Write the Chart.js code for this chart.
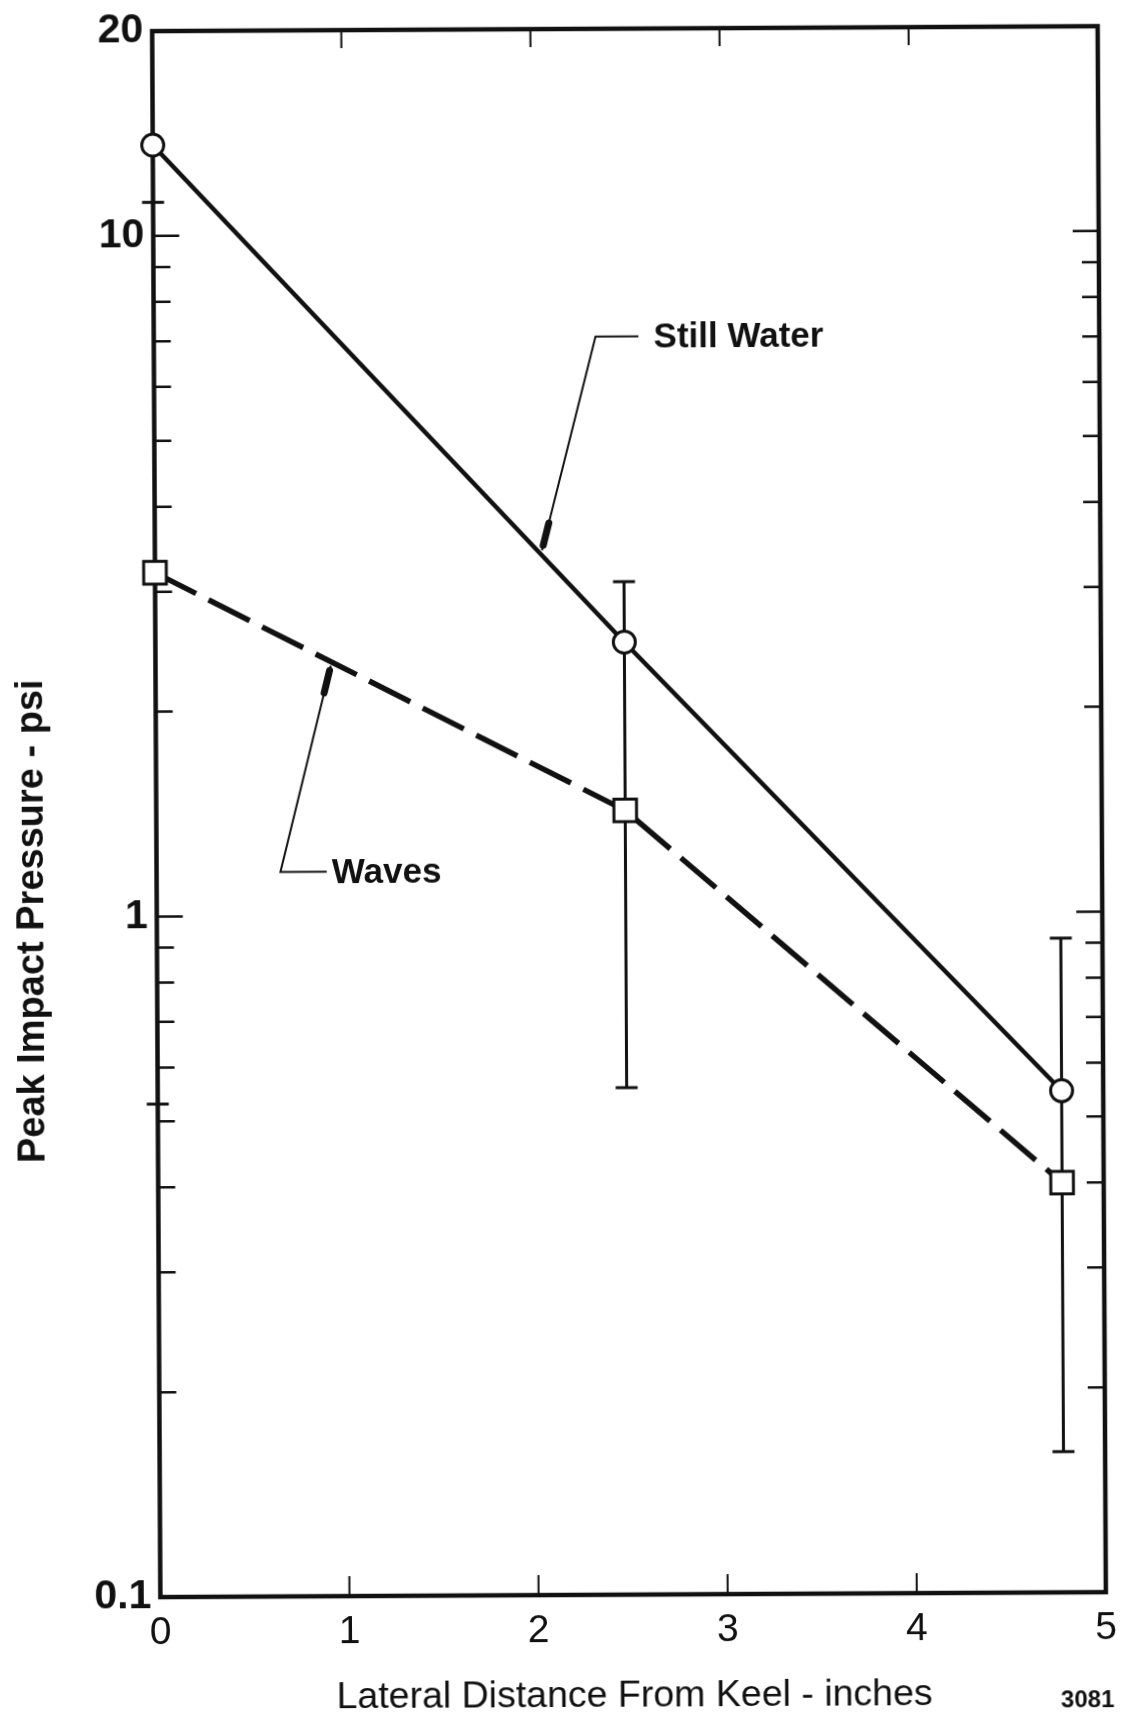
<!DOCTYPE html>
<html>
<head>
<meta charset="utf-8">
<title>Peak Impact Pressure vs Lateral Distance</title>
<script src="https://cdn.jsdelivr.net/npm/chart.js@4.4.1/dist/chart.umd.min.js"></script>
<style>
  html, body { margin: 0; padding: 0; background: #fff; }
  #wrap { width: 1121px; height: 1718px; position: relative; }
  #pressureChart { display: block; transform: rotate(-0.3deg); }
</style>
</head>
<body>
<div id="wrap"><canvas id="pressureChart"></canvas></div>
<script>
// lateral distance from keel (inches) of each gauge
const distance = [0, 2.48, 4.78];
// peak impact pressure, psi
const stillWater = [13.6, 2.51, 0.546];
const waves = [3.2, 1.42, 0.40];
// spread of the wave runs
const wavesLow = [0.53, 0.556, 0.161];
const wavesHigh = [11.2, 3.08, 0.915];

const xTickValues = [0, 1, 2, 3, 4, 5];
const yTickValues = [0.1, 0.2, 0.3, 0.4, 0.5, 0.6, 0.7, 0.8, 0.9, 1, 2, 3, 4, 5, 6, 7, 8, 9, 10, 20];
const yLabelValues = [0.1, 1, 10, 20];

const xTitle = 'Lateral Distance From Keel - inches';
const yTitle = 'Peak Impact Pressure - psi';
const figureNo = '3081';

// leader callouts, in data units
const callouts = [
  { text: 'Still Water', tip: [2.047, 3.43], knee: [2.336, 7.06], end: [2.563, 7.06], textX: 2.643 },
  { text: 'Waves', tip: [0.927, 2.33], knee: [0.655, 1.16], end: [0.90, 1.16], textX: 0.927 }
];

const INK = '#111';
const SANS = '"Liberation Sans", Arial, sans-serif';

const toPoints = vals => distance.map((d, i) => ({ x: d, y: vals[i] }));

const frameAndTicks = {
  id: 'frameAndTicks',
  beforeDatasetsDraw(chart) {
    const { ctx, chartArea: a, scales: { x, y } } = chart;
    ctx.save();
    ctx.strokeStyle = INK;
    ctx.lineCap = 'butt';

    // ticks on both vertical edges, pointing in
    ctx.lineWidth = 2.5;
    yTickValues.forEach(v => {
      if (v === y.min || v === y.max) return;
      const py = y.getPixelForValue(v);
      const len = (v === 1 || v === 10) ? 26 : 17;
      ctx.beginPath();
      ctx.moveTo(a.left, py); ctx.lineTo(a.left + len, py);
      ctx.moveTo(a.right, py); ctx.lineTo(a.right - len, py);
      ctx.stroke();
    });
    ctx.lineWidth = 2;
    xTickValues.forEach(v => {
      if (v === x.min || v === x.max) return;
      const px = x.getPixelForValue(v);
      ctx.beginPath();
      ctx.moveTo(px, a.bottom); ctx.lineTo(px, a.bottom - 20);
      ctx.moveTo(px, a.top); ctx.lineTo(px, a.top + 18);
      ctx.stroke();
    });
    ctx.lineWidth = 4.5;
    ctx.strokeRect(a.left, a.top, a.right - a.left, a.bottom - a.top);

    // error bars for the wave runs
    ctx.lineWidth = 3;
    distance.forEach((d, i) => {
      const px = x.getPixelForValue(d);
      const top = y.getPixelForValue(wavesHigh[i]);
      const bot = y.getPixelForValue(wavesLow[i]);
      ctx.beginPath();
      ctx.moveTo(px, top); ctx.lineTo(px, bot);
      ctx.moveTo(px - 11, top); ctx.lineTo(px + 11, top);
      ctx.moveTo(px - 11, bot); ctx.lineTo(px + 11, bot);
      ctx.stroke();
    });
    ctx.restore();
  },
  afterDatasetsDraw(chart) {
    const { ctx, scales: { x, y } } = chart;
    ctx.save();
    ctx.strokeStyle = INK;
    ctx.fillStyle = INK;
    callouts.forEach(c => {
      const tx = x.getPixelForValue(c.tip[0]), ty = y.getPixelForValue(c.tip[1]);
      const kx = x.getPixelForValue(c.knee[0]), ky = y.getPixelForValue(c.knee[1]);
      const ex = x.getPixelForValue(c.end[0]);
      ctx.lineWidth = 2;
      ctx.lineCap = 'butt';
      ctx.beginPath();
      ctx.moveTo(ex, ky); ctx.lineTo(kx, ky); ctx.lineTo(tx, ty);
      ctx.stroke();
      // dart near the tip
      const dx = kx - tx, dy = ky - ty, len = Math.hypot(dx, dy);
      const ux = dx / len, uy = dy / len;
      ctx.lineWidth = 7;
      ctx.lineCap = 'round';
      ctx.beginPath();
      ctx.moveTo(tx + ux * 5, ty + uy * 5);
      ctx.lineTo(tx + ux * 28, ty + uy * 28);
      ctx.stroke();
      ctx.font = 'bold 35px ' + SANS;
      ctx.textAlign = 'left';
      ctx.textBaseline = 'middle';
      ctx.fillText(c.text, x.getPixelForValue(c.textX), ky + 2);
    });
    ctx.restore();
  },
  afterDraw(chart) {
    const { ctx, chartArea: a } = chart;
    ctx.save();
    ctx.fillStyle = INK;
    ctx.textBaseline = 'middle';

    // axis titles
    ctx.textAlign = 'center';
    ctx.font = '37.5px ' + SANS;
    ctx.fillText(xTitle, (a.left + a.right) / 2 + 1, chart.height - 21);

    ctx.save();
    ctx.translate(33, a.top + (a.bottom - a.top) * 0.568);
    ctx.rotate(-Math.PI / 2);
    ctx.font = 'bold 38px ' + SANS;
    ctx.fillText(yTitle, 0, 0);
    ctx.restore();

    ctx.textAlign = 'right';
    ctx.font = 'bold 24px ' + SANS;
    ctx.fillText(figureNo, a.right + 8, chart.height - 15);
    ctx.restore();
  }
};

new Chart(document.getElementById('pressureChart'), {
  type: 'line',
  data: {
    datasets: [
      {
        label: 'Still Water',
        data: toPoints(stillWater),
        borderColor: INK,
        borderWidth: 4.5,
        pointStyle: 'circle',
        pointRadius: 11,
        pointBorderWidth: 3,
        pointBackgroundColor: '#fff',
        pointBorderColor: INK,
        tension: 0,
        clip: false
      },
      {
        label: 'Waves',
        data: toPoints(waves),
        borderColor: INK,
        borderWidth: 5.5,
        borderDash: [46, 14],
        pointStyle: 'rect',
        pointRadius: 16,
        pointBorderWidth: 3,
        pointBackgroundColor: '#fff',
        pointBorderColor: INK,
        tension: 0,
        clip: false
      }
    ]
  },
  options: {
    responsive: true,
    maintainAspectRatio: false,
    animation: false,
    layout: { padding: { top: 29, right: 16, left: 0, bottom: 0 } },
    plugins: { legend: { display: false }, tooltip: { enabled: false } },
    scales: {
      x: {
        type: 'linear',
        min: 0,
        max: 5,
        grid: { display: false, drawTicks: false },
        border: { display: false },
        afterBuildTicks: s => { s.ticks = xTickValues.map(v => ({ value: v })); },
        afterFit: s => { s.height = 123; s.paddingLeft = 0; s.paddingRight = 0; },
        ticks: { color: INK, font: { family: SANS, size: 39 }, padding: 13, maxRotation: 0, autoSkip: false }
      },
      y: {
        type: 'logarithmic',
        min: 0.1,
        max: 20,
        grid: { display: false, drawTicks: false },
        border: { display: false },
        afterBuildTicks: s => { s.ticks = yTickValues.map(v => ({ value: v })); },
        afterFit: s => { s.width = 156.5; s.paddingTop = 0; s.paddingBottom = 0; },
        ticks: {
          color: INK,
          font: { family: SANS, size: 41, weight: 'bold' },
          padding: 9,
          autoSkip: false,
          callback: v => yLabelValues.includes(v) ? String(v) : ''
        }
      }
    }
  },
  plugins: [frameAndTicks]
});
</script>
</body>
</html>
